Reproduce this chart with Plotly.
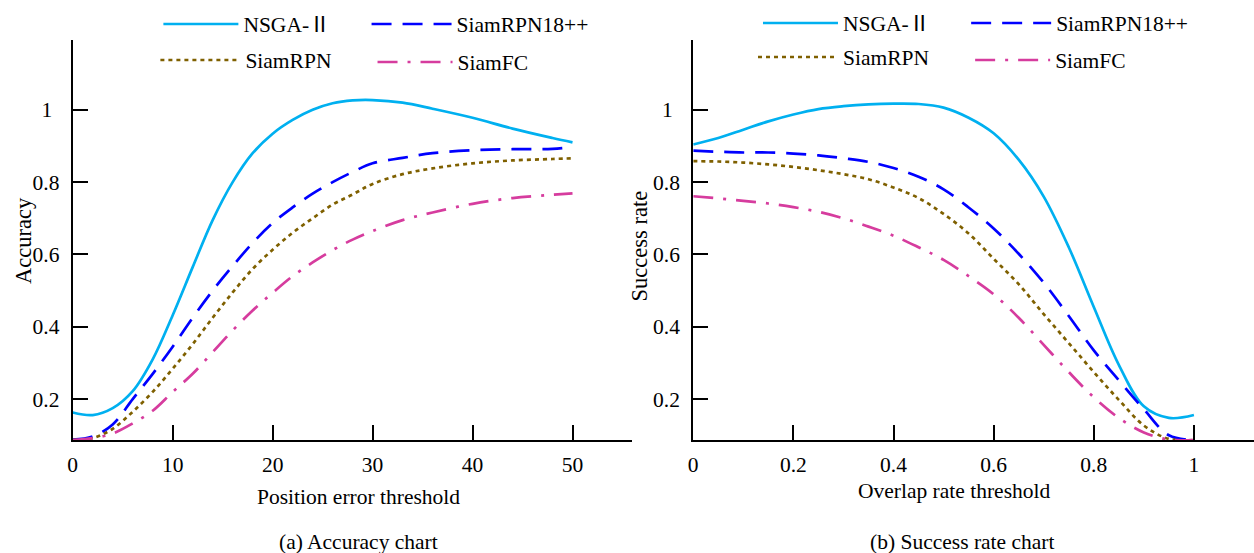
import plotly.graph_objects as go

# ---------------- data ----------------
series_names = ["NSGA-Ⅱ", "SiamRPN18++", "SiamRPN", "SiamFC"]

acc_x = [0, 2, 4, 6, 8, 10, 12, 14, 16, 18, 20, 22, 24, 26, 28, 30, 33, 36, 40, 44, 48, 50]
acc_nsga = [0.163, 0.156, 0.175, 0.222, 0.310, 0.432, 0.565, 0.695, 0.800, 0.880, 0.934, 0.972,
            1.000, 1.018, 1.026, 1.027, 1.020, 1.003, 0.978, 0.948, 0.922, 0.910]
acc_rpn18 = [0.088, 0.097, 0.130, 0.200, 0.270, 0.345, 0.425, 0.500, 0.568, 0.632, 0.687, 0.730,
             0.768, 0.800, 0.828, 0.852, 0.867, 0.880, 0.888, 0.891, 0.892, 0.897]
acc_rpn = [0.087, 0.092, 0.118, 0.165, 0.220, 0.284, 0.352, 0.425, 0.495, 0.560, 0.613, 0.660,
           0.700, 0.738, 0.766, 0.795, 0.822, 0.838, 0.852, 0.860, 0.864, 0.866]
acc_fc = [0.087, 0.092, 0.105, 0.133, 0.168, 0.220, 0.270, 0.330, 0.390, 0.445, 0.494, 0.540,
          0.578, 0.612, 0.641, 0.665, 0.695, 0.716, 0.740, 0.756, 0.765, 0.769]

sr_x = [0, 0.05, 0.1, 0.15, 0.2, 0.25, 0.3, 0.35, 0.4, 0.45, 0.5, 0.55, 0.6, 0.65, 0.7, 0.75,
        0.8, 0.85, 0.9, 0.95, 1.0]
sr_nsga = [0.904, 0.922, 0.945, 0.968, 0.987, 1.002, 1.010, 1.015, 1.017, 1.016, 1.006, 0.978,
           0.935, 0.862, 0.760, 0.620, 0.455, 0.295, 0.180, 0.148, 0.156]
sr_rpn18 = [0.887, 0.884, 0.882, 0.882, 0.879, 0.874, 0.866, 0.856, 0.839, 0.815, 0.780, 0.730,
            0.672, 0.602, 0.522, 0.430, 0.335, 0.252, 0.172, 0.100, 0.087]
sr_rpn = [0.858, 0.857, 0.854, 0.849, 0.842, 0.833, 0.822, 0.808, 0.785, 0.756, 0.712, 0.658,
          0.588, 0.518, 0.435, 0.355, 0.275, 0.198, 0.127, 0.090, 0.087]
sr_fc = [0.761, 0.755, 0.748, 0.741, 0.731, 0.718, 0.700, 0.677, 0.652, 0.620, 0.585, 0.540,
         0.490, 0.425, 0.350, 0.275, 0.205, 0.148, 0.108, 0.088, 0.087]

acc_ticks = [0, 10, 20, 30, 40, 50]
acc_ticktext = ["0", "10", "20", "30", "40", "50"]
sr_ticks = [0, 0.2, 0.4, 0.6, 0.8, 1.0]
sr_ticktext = ["0", "0.2", "0.4", "0.6", "0.8", "1"]
y_ticks = [0.2, 0.4, 0.6, 0.8, 1.0]
y_ticktext = ["0.2", "0.4", "0.6", "0.8", "1\u2004"]

# ---------------- styles ----------------
colors = ["#00B0F0", "#0000FF", "#7F6000", "#D63C9E"]
dashes = ["solid", "20px,11px", "4px,4px", "20px,10px,3px,10px"]
FONT = "Liberation Serif, Noto Sans CJK SC, serif"
FS = 21.5
W, H = 1254, 553
PLOT_TOP, PLOT_BOTTOM = 40, 440

def py2paper(py):
    return (PLOT_BOTTOM - py) / (PLOT_BOTTOM - PLOT_TOP)

# legend placement in pixels (left edge, vertical centre, symbol width)
legend_px = [
    [(154, 24, 75), (363, 24, 80), (151, 60, 80), (369, 62, 75)],
    [(756, 23, 75), (965, 23, 80), (751, 57, 80), (969, 60, 75)],
]

fig = go.Figure()
panels = [
    ("x", "y", acc_x, [acc_nsga, acc_rpn18, acc_rpn, acc_fc]),
    ("x2", "y2", sr_x, [sr_nsga, sr_rpn18, sr_rpn, sr_fc]),
]
legend_layouts = {}
k = 0
for p, (xa, ya, xs, ys_list) in enumerate(panels):
    for i, ys in enumerate(ys_list):
        k += 1
        lid = "legend" if k == 1 else f"legend{k}"
        fig.add_trace(go.Scatter(
            x=xs, y=ys, mode="lines", name=series_names[i],
            xaxis=xa, yaxis=ya, legend=lid, showlegend=True,
            line=dict(color=colors[i], width=2.7, dash=dashes[i], shape="spline", smoothing=1.0),
            hoverinfo="skip",
        ))
        lx, ly, iw = legend_px[p][i]
        legend_layouts[lid] = dict(
            x=lx / W, y=py2paper(ly), xanchor="left", yanchor="middle",
            bgcolor="rgba(0,0,0,0)", borderwidth=0, itemwidth=iw,
            font=dict(family=FONT, size=FS, color="black"),
            orientation="h",
        )

axis_common = dict(
    showline=True, linecolor="black", linewidth=2, ticks="inside", ticklen=15,
    tickwidth=2, tickcolor="black", showgrid=False, zeroline=False,
    tickfont=dict(family=FONT, size=FS, color="black"),
)

fig.update_layout(
    width=W, height=H,
    font=dict(family=FONT, size=FS, color="black"),
    showlegend=True,
    margin=dict(l=0, r=0, t=PLOT_TOP, b=H - PLOT_BOTTOM),
    paper_bgcolor="white", plot_bgcolor="white",
    xaxis=dict(domain=[68 / W, 630 / W], range=[0, 56], tickvals=acc_ticks,
               ticktext=acc_ticktext, anchor="y", ticklabelstandoff=4, **axis_common),
    yaxis=dict(domain=[0, 1], range=[0.087, 1.193], tickvals=y_ticks, ticktext=y_ticktext,
               anchor="x", ticklabelstandoff=7, **axis_common),
    xaxis2=dict(domain=[691 / W, 1.0], range=[0, 1.12], tickvals=sr_ticks,
                ticktext=sr_ticktext, anchor="y2", ticklabelstandoff=4, **axis_common),
    yaxis2=dict(domain=[0, 1], range=[0.087, 1.193], tickvals=y_ticks, ticktext=y_ticktext,
                anchor="x2", ticklabelstandoff=7, **axis_common),
    **legend_layouts,
)

annotations = [
    dict(text="Position error threshold", x=355 / W, y=py2paper(497), size=FS),
    dict(text="Overlap rate threshold", x=953 / W, y=py2paper(491), size=FS),
    dict(text="(a) Accuracy chart", x=355 / W, y=py2paper(542), size=FS),
    dict(text="(b) Success rate chart", x=961 / W, y=py2paper(542), size=FS),
    dict(text="Accuracy", x=18 / W, y=py2paper(240), size=22.5, textangle=-90),
    dict(text="Success rate", x=637 / W, y=py2paper(246), size=22.5, textangle=-90),
]
for a in annotations:
    size = a.pop("size")
    fig.add_annotation(xref="paper", yref="paper", showarrow=False,
                       xanchor="center", yanchor="middle",
                       font=dict(family=FONT, size=size, color="black"), **a)

fig.write_html("out.html")
